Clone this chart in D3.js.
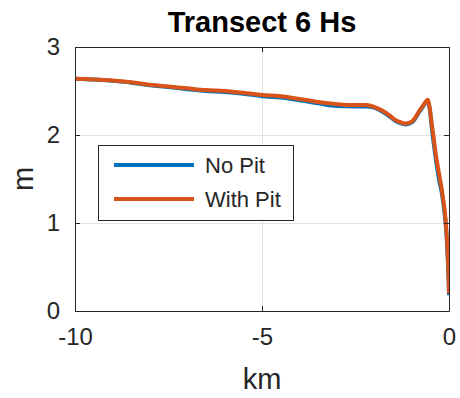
<!DOCTYPE html>
<html>
<head>
<meta charset="utf-8">
<script src="https://cdn.jsdelivr.net/npm/d3@7"></script>
<style>
  html, body { margin: 0; padding: 0; background: #fff; }
  svg { display: block; font-family: "Liberation Sans", Arial, Helvetica, sans-serif; }
</style>
</head>
<body>
<svg id="chart" width="460" height="398"></svg>
<script>
// Distance along transect (km) and significant wave height (m)
const distanceKm = [-10, -9.5, -9, -8.5, -8, -7.5, -7, -6.5, -6, -5.5, -5, -4.5, -4, -3.5, -3, -2.5,
  -2.2, -2.0, -1.8, -1.6, -1.45, -1.3, -1.15, -1.0, -0.9, -0.8, -0.7, -0.62, -0.57, -0.52,
  -0.46, -0.42, -0.36, -0.3, -0.25, -0.2, -0.15, -0.11, -0.08, -0.05, -0.03, -0.01, 0];
const hsNoPit = [2.64, 2.63, 2.615, 2.595, 2.565, 2.545, 2.52, 2.50, 2.49, 2.47, 2.44, 2.425, 2.395, 2.36, 2.33, 2.325,
  2.325, 2.31, 2.27, 2.215, 2.165, 2.135, 2.12, 2.14, 2.19, 2.26, 2.32, 2.37, 2.39, 2.31,
  2.08, 1.94, 1.75, 1.58, 1.46, 1.36, 1.22, 1.08, 0.94, 0.74, 0.56, 0.35, 0.18];
const hsWithPit = [2.64, 2.63, 2.62, 2.60, 2.57, 2.55, 2.53, 2.51, 2.50, 2.48, 2.455, 2.44, 2.41, 2.375, 2.35, 2.34,
  2.34, 2.32, 2.28, 2.225, 2.175, 2.145, 2.13, 2.15, 2.20, 2.27, 2.33, 2.38, 2.40, 2.32,
  2.12, 2.00, 1.80, 1.64, 1.52, 1.40, 1.25, 1.12, 0.97, 0.78, 0.60, 0.38, 0.20];

const xTicks = [-10, -5, 0];
const yTicks = [0, 1, 2, 3];
const seriesNames = ["No Pit", "With Pit"];
const seriesColors = ["#0072BD", "#D95319"];

const svg = d3.select("#chart");
const margin = { left: 75, right: 11, top: 47, bottom: 87 };
const W = 460, H = 398;
const x0 = margin.left, x1 = W - margin.right, y0 = margin.top, y1 = H - margin.bottom;

const x = d3.scaleLinear().domain([-10, 0]).range([x0, x1]);
const y = d3.scaleLinear().domain([0, 3]).range([y1, y0]);

const axisColor = "#262626";
const tickLen = 5;

// Grid lines
const grid = svg.append("g");
grid.selectAll(".gx").data(xTicks.filter(d => d > -10 && d < 0)).enter().append("line")
  .attr("x1", d => x(d)).attr("x2", d => x(d)).attr("y1", y0).attr("y2", y1)
  .attr("stroke", "#e3e3e3").attr("stroke-width", 1).attr("shape-rendering", "crispEdges");
grid.selectAll(".gy").data(yTicks.filter(d => d > 0 && d < 3)).enter().append("line")
  .attr("x1", x0).attr("x2", x1).attr("y1", d => y(d)).attr("y2", d => y(d))
  .attr("stroke", "#e3e3e3").attr("stroke-width", 1).attr("shape-rendering", "crispEdges");

// Data lines
const line = d3.line().x((d, i) => x(distanceKm[i])).y(d => y(d)).curve(d3.curveMonotoneX);
const clip = svg.append("clipPath").attr("id", "plotclip").append("rect")
  .attr("x", x0 - 3).attr("y", y0).attr("width", x1 - x0 + 3).attr("height", y1 - y0);
const plot = svg.append("g").attr("clip-path", "url(#plotclip)");
[hsNoPit, hsWithPit].forEach((vals, k) => {
  plot.append("path").datum(vals).attr("d", line)
    .attr("fill", "none").attr("stroke", seriesColors[k])
    .attr("stroke-width", 4).attr("stroke-linejoin", "round").attr("stroke-linecap", "butt");
});

// Axes (box with mirrored inward ticks); plain hyphen for negatives
const fmt = d => String(d);
const xAxisB = d3.axisBottom(x).tickValues(xTicks).tickSizeInner(-tickLen).tickSizeOuter(0).tickPadding(17).tickFormat(fmt);
const xAxisT = d3.axisTop(x).tickValues(xTicks).tickSizeInner(-tickLen).tickSizeOuter(0).tickFormat("");
const yAxisL = d3.axisLeft(y).tickValues(yTicks).tickSizeInner(-tickLen).tickSizeOuter(0).tickPadding(15).tickFormat(fmt);
const yAxisR = d3.axisRight(y).tickValues(yTicks).tickSizeInner(-tickLen).tickSizeOuter(0).tickFormat("");

function styleAxis(g) {
  g.select(".domain").attr("stroke", axisColor).attr("stroke-width", 1);
  g.selectAll(".tick line").attr("stroke", axisColor).attr("stroke-width", 1);
  g.selectAll(".tick text").attr("fill", axisColor).style("font-size", "24px")
    .style("font-family", "'Liberation Sans', Arial, Helvetica, sans-serif");
}
svg.append("g").attr("transform", `translate(0,${y1})`).call(xAxisB).call(styleAxis);
svg.append("g").attr("transform", `translate(0,${y0})`).call(xAxisT).call(styleAxis);
svg.append("g").attr("transform", `translate(${x0},0)`).call(yAxisL).call(styleAxis);
svg.append("g").attr("transform", `translate(${x1},0)`).call(yAxisR).call(styleAxis);

// Title and axis labels
svg.append("text").attr("x", (x0 + x1) / 2).attr("y", 32).attr("text-anchor", "middle")
  .attr("fill", "#000").style("font-size", "29px").style("font-weight", "bold").text("Transect 6 Hs");
svg.append("text").attr("x", (x0 + x1) / 2).attr("y", 389).attr("text-anchor", "middle")
  .attr("fill", axisColor).style("font-size", "29px").text("km");
svg.append("text").attr("transform", `translate(33,${(y0 + y1) / 2}) rotate(-90)`).attr("text-anchor", "middle")
  .attr("fill", axisColor).style("font-size", "29px").text("m");

// Legend
const lg = svg.append("g");
lg.append("rect").attr("x", 98.5).attr("y", 145.5).attr("width", 195).attr("height", 75)
  .attr("fill", "#fff").attr("stroke", axisColor).attr("stroke-width", 1);
seriesNames.forEach((name, i) => {
  const cy = 165 + i * 34;
  lg.append("line").attr("x1", 114).attr("x2", 194).attr("y1", cy).attr("y2", cy)
    .attr("stroke", seriesColors[i]).attr("stroke-width", 4);
  lg.append("text").attr("x", 205).attr("y", cy + 8).attr("fill", axisColor)
    .style("font-size", "22px").text(name);
});
</script>
</body>
</html>
